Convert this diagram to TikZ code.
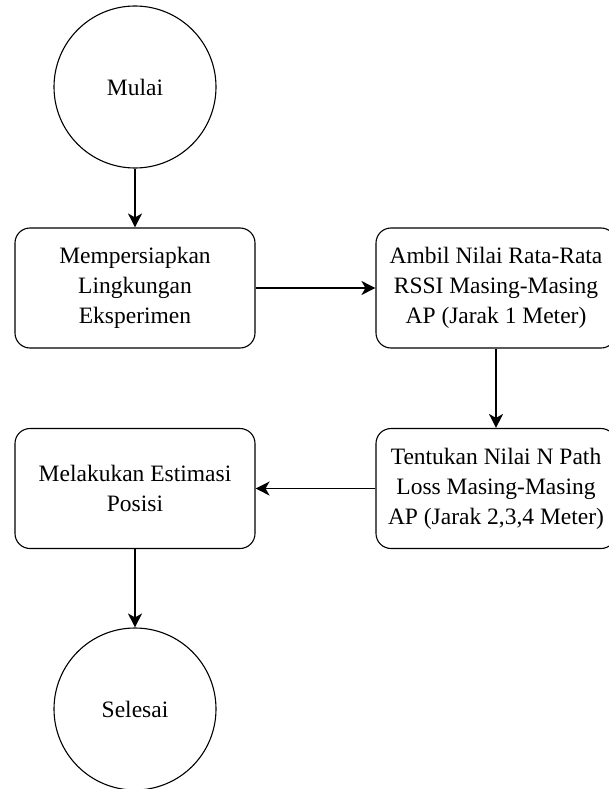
\documentclass[tikz,border=0pt]{standalone}
\usepackage{fontspec}
\setmainfont{Liberation Serif}
\usetikzlibrary{arrows.meta}
\tikzset{
  flowline/.style={line width=1.3pt, -{Stealth[length=14pt,width=14pt,inset=4pt]}},
  terminal/.style={circle, draw, line width=1.1pt, minimum size=162pt, inner sep=0pt,
    font=\fontsize{23.5}{30}\selectfont},
  stepbox/.style={rectangle, draw, line width=1.1pt, rounded corners=15pt,
    minimum width=240pt, minimum height=120pt, inner sep=0pt, align=center,
    font=\fontsize{23.5}{30}\selectfont}
}
\begin{document}
\begin{tikzpicture}[x=1pt,y=-1pt]
  \useasboundingbox (0,0) rectangle (609,789);
  \fill[white] (0,0) rectangle (609,789);

  \node[terminal] (mulai) at (135,87) {Mulai};
  \node[stepbox] (siap) at (135,288) {Mempersiapkan\\Lingkungan\\Eksperimen};
  \node[stepbox] (ambil) at (496,288) {Ambil Nilai Rata-Rata\\RSSI Masing-Masing\\AP (Jarak 1 Meter)};
  \node[stepbox] (tentu) at (496,488.5) {Tentukan Nilai N Path\\Loss Masing-Masing\\AP (Jarak 2,3,4 Meter)};
  \node[stepbox] (estim) at (135,488.5) {Melakukan Estimasi\\Posisi};
  \node[terminal] (selesai) at (135,709) {Selesai};

  \draw[flowline] (mulai) -- (siap);
  \draw[flowline] (siap) -- (ambil);
  \draw[flowline] (ambil) -- (tentu);
  \draw[flowline] (tentu) -- (estim);
  \draw[flowline] (estim) -- (selesai);
\end{tikzpicture}
\end{document}
